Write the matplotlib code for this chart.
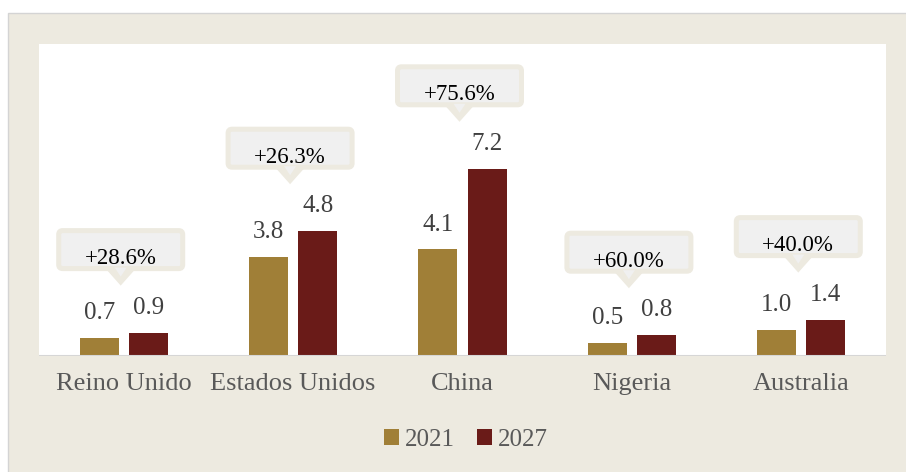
import matplotlib
matplotlib.use("Agg")
import matplotlib.pyplot as plt
from matplotlib.patches import Rectangle, FancyBboxPatch, Polygon, Patch

plt.rcParams["font.family"] = ["Liberation Serif", "DejaVu Serif"]

# Datos
paises = ["Reino Unido", "Estados Unidos", "China", "Nigeria", "Australia"]
valores_2021 = [0.7, 3.8, 4.1, 0.5, 1.0]
valores_2027 = [0.9, 4.8, 7.2, 0.8, 1.4]
variaciones = ["+28.6%", "+26.3%", "+75.6%", "+60.0%", "+40.0%"]
series = ["2021", "2027"]

color_2021 = "#A07F37"
color_2027 = "#6A1B18"
beige = "#EDEAE0"
gris_caja = "#F0F0F0"

fig = plt.figure(figsize=(9.06, 4.72), dpi=100, facecolor="white")

# Marco de fondo
fondo = Rectangle((8 / 906, -0.1), 1.2, 1 - 13 / 472 + 0.1, transform=fig.transFigure,
                  facecolor=beige, edgecolor="#D4D4D4", linewidth=1, zorder=-10)
fig.patches.append(fondo)

ax = fig.add_axes([39 / 906, 1 - 356 / 472, 847 / 906, 312 / 472])
ax.set_zorder(1)
ax.set_facecolor("white")
ax.set_xlim(-0.5, len(paises) - 0.5)
ax.set_ylim(0, 12)
for s in ax.spines.values():
    s.set_visible(False)
ax.set_yticks([])

x = list(range(len(paises)))
ancho = 0.23
desp = 0.145
ax.bar([i - desp for i in x], valores_2021, ancho, color=color_2021, zorder=2)
ax.bar([i + desp for i in x], valores_2027, ancho, color=color_2027, zorder=2)
ax.axhline(0, color="#D6D6D6", linewidth=1.5, zorder=3)

# Etiquetas de valores
for i in x:
    ax.annotate(f"{valores_2021[i]:.1f}", (i - desp, valores_2021[i]), xytext=(0, 10),
                textcoords="offset points", ha="center", va="bottom", fontsize=18, color="#404040")
    ax.annotate(f"{valores_2027[i]:.1f}", (i + desp, valores_2027[i]), xytext=(0, 10),
                textcoords="offset points", ha="center", va="bottom", fontsize=18, color="#404040")

# Globos con la variacion
px_x = 847 / 5
px_y = 312 / 12
for i in x:
    tope = max(valores_2021[i], valores_2027[i])
    base = tope + 64 / px_y
    w = 124 / px_x
    h = 38 / px_y
    cx = i - 3 / px_x
    caja = FancyBboxPatch((cx - w / 2, base), w, h,
                          boxstyle=f"round,pad=0,rounding_size={4 / px_x}",
                          mutation_aspect=px_x / px_y,
                          facecolor=gris_caja, edgecolor=beige, linewidth=3.6, zorder=4)
    ax.add_patch(caja)
    hw = 16 / px_x
    punta = Polygon([(cx - hw, base + 1 / px_y), (cx + hw, base + 1 / px_y), (cx, base - 17 / px_y)],
                    closed=True, facecolor=beige, edgecolor="none", zorder=4)
    ax.add_patch(punta)
    hw2 = 6 / px_x
    flecha = Polygon([(cx - hw2, base + 1 / px_y), (cx + hw2, base + 1 / px_y), (cx, base - 8 / px_y)],
                     closed=True, facecolor=gris_caja, edgecolor="none", zorder=5)
    ax.add_patch(flecha)
    ax.text(cx, base + h / 2 - 9 / px_y, variaciones[i], ha="center", va="center",
            fontsize=16.5, color="black", zorder=6)

ax.set_xticks(x)
ax.set_xticklabels(paises, fontsize=19, color="#595959")
ax.tick_params(axis="x", length=0, pad=12)

handles = [Patch(facecolor=color_2021), Patch(facecolor=color_2027)]
leg = fig.legend(handles, series, loc="center", bbox_to_anchor=(466 / 906, 1 - 440 / 472),
                 ncol=2, frameon=False, fontsize=18, handlelength=0.6, handleheight=0.6,
                 handletextpad=0.25, columnspacing=0.85)
for t in leg.get_texts():
    t.set_color("#595959")

fig.savefig("out.png", dpi=100)
